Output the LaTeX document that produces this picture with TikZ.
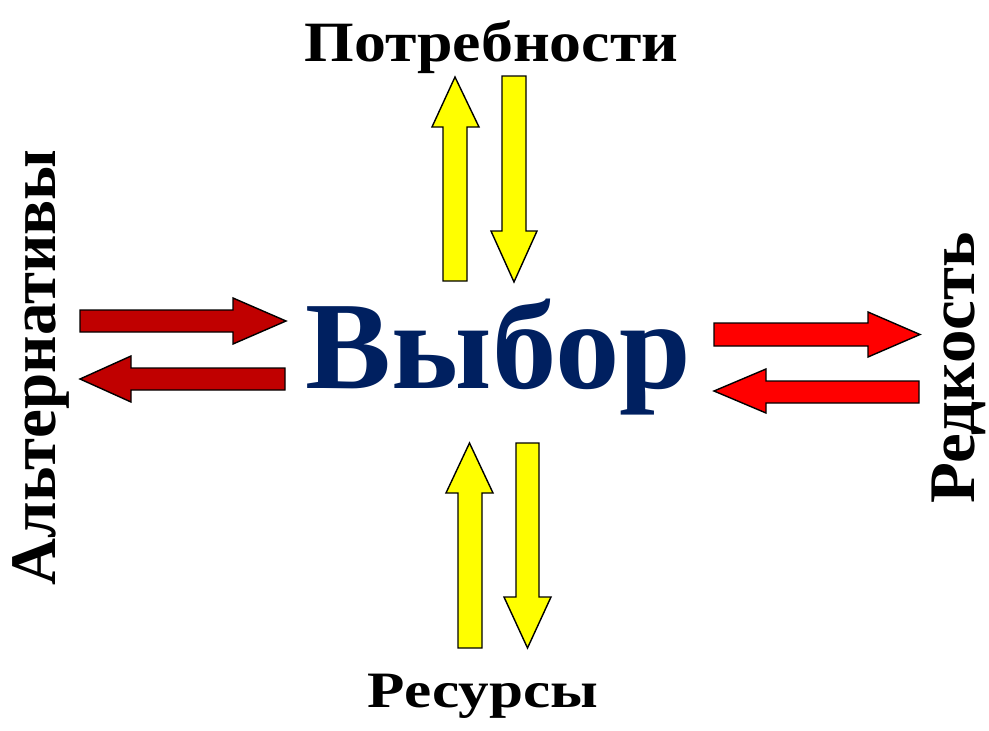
\documentclass[tikz,border=0pt]{standalone}
\usepackage{fontspec}
\setmainfont{Liberation Serif}
\usetikzlibrary{positioning}

\definecolor{choiceblue}{HTML}{002060}
\definecolor{darkred}{HTML}{C00000}
\definecolor{brightred}{HTML}{FF0000}
\definecolor{brightyellow}{HTML}{FFFF00}

\begin{document}
\begin{tikzpicture}[
    x=1pt, y=-1pt, % pixel-like coordinates, y pointing down
    blockarrow/.style={draw=black, line width=1.4pt, line join=miter}, % Style for block arrows
    sidelabel/.style={font=\bfseries\fontsize{57}{60}\selectfont, anchor=base}, % Style for labels
    uprightlabel/.style={sidelabel, font=\bfseries\fontsize{65}{68}\selectfont, rotate=90},
    mainlabel/.style={font=\bfseries\fontsize{125}{130}\selectfont, text=choiceblue, anchor=base}
]
    \useasboundingbox (0,0) rectangle (989,731);

    % Labels
    \node[sidelabel, xscale=1.12] (needs) at (491.5,61) {Потребности};
    \node[sidelabel, font=\bfseries\fontsize{51}{54}\selectfont, xscale=1.2] (resources) at (483,707) {Ресурсы};
    \node[uprightlabel] (alternatives) at (55,367.5) {Альтернативы};
    \node[uprightlabel, xscale=1.03] (scarcity) at (974,368) {Редкость};
    \node[mainlabel, xscale=1.03] (choice) at (498.5,388) {Выбор};

    % Top pair (yellow)
    \draw[blockarrow, fill=brightyellow] (443,281) -- (443,127) -- (432,127) -- (455,77)
        -- (479,127) -- (467,127) -- (467,281) -- cycle;
    \draw[blockarrow, fill=brightyellow] (502,76) -- (526,76) -- (526,231) -- (537,231)
        -- (514,282) -- (491,231) -- (502,231) -- cycle;

    % Bottom pair (yellow)
    \draw[blockarrow, fill=brightyellow] (458,648) -- (458,493) -- (446,493) -- (469.5,443)
        -- (493,493) -- (482,493) -- (482,648) -- cycle;
    \draw[blockarrow, fill=brightyellow] (516,443) -- (539,443) -- (539,597) -- (551,597)
        -- (527.5,648) -- (504,597) -- (516,597) -- cycle;

    % Left pair (dark red)
    \draw[blockarrow, fill=darkred] (80,310) -- (233,310) -- (233,298) -- (286,321)
        -- (233,344) -- (233,332) -- (80,332) -- cycle;
    \draw[blockarrow, fill=darkred] (285,368) -- (131,368) -- (131,356) -- (80,379)
        -- (131,402) -- (131,390) -- (285,390) -- cycle;

    % Right pair (red)
    \draw[blockarrow, fill=brightred] (714,323) -- (868,323) -- (868,312) -- (920,334.5)
        -- (868,357) -- (868,346) -- (714,346) -- cycle;
    \draw[blockarrow, fill=brightred] (919,381) -- (766,381) -- (766,369) -- (714,391)
        -- (766,413) -- (766,403) -- (919,403) -- cycle;

\end{tikzpicture}
\end{document}
